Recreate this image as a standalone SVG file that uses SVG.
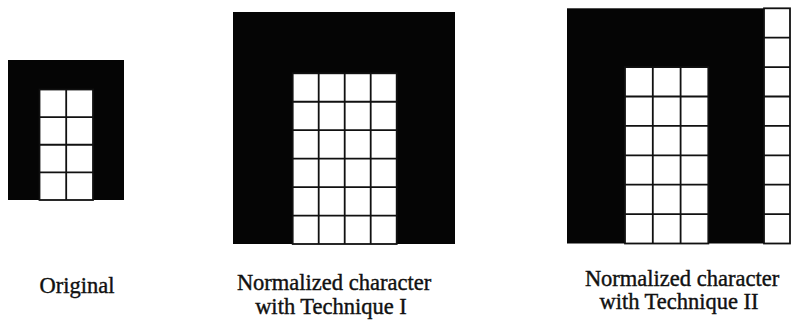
<svg xmlns="http://www.w3.org/2000/svg" width="791" height="321" viewBox="0 0 791 321">
<style>
.blk{fill:#050505}
.cell{fill:#fff;stroke:#111;stroke-width:1.8}
.grid{fill:none;stroke:#111;stroke-width:1.8}
.lbl{font-family:"Liberation Serif","Times New Roman",serif;font-size:22.5px;fill:#111;stroke:#111;stroke-width:0.4;text-anchor:middle}
</style>
<rect width="791" height="321" fill="#fff"/>
<g id="original">
<rect class="blk" x="8" y="60" width="116" height="140"/>
<rect class="cell" x="39.5" y="89.5" width="53.5" height="110.5"/>
<path class="grid" d="M66.2 89.5V200M39.5 117.1H93M39.5 144.75H93M39.5 172.4H93"/>
<text class="lbl" x="77" y="293">Original</text>
</g>
<g id="technique1">
<rect class="blk" x="233" y="12" width="222" height="232"/>
<rect class="cell" x="292.7" y="73.3" width="104" height="170.7"/>
<path class="grid" d="M318.7 73.3V244M344.7 73.3V244M370.7 73.3V244M292.7 101.75H396.7M292.7 130.2H396.7M292.7 158.65H396.7M292.7 187.1H396.7M292.7 215.55H396.7"/>
<text class="lbl" x="334" y="290">Normalized character</text>
<text class="lbl" x="331" y="314">with Technique I</text>
</g>
<g id="technique2">
<rect class="blk" x="567" y="8.3" width="197" height="235.2"/>
<rect class="cell" x="625" y="67.1" width="83.3" height="176.4"/>
<path class="grid" d="M652.8 67.1V243.5M680.6 67.1V243.5M625 96.5H708.3M625 125.9H708.3M625 155.3H708.3M625 184.7H708.3M625 214.1H708.3"/>
<rect class="cell" x="764" y="8.3" width="26" height="235.2"/>
<path class="grid" d="M764 37.7H790M764 67.1H790M764 96.5H790M764 125.9H790M764 155.3H790M764 184.7H790M764 214.1H790"/>
<text class="lbl" x="682" y="286">Normalized character</text>
<text class="lbl" x="679" y="309">with Technique II</text>
</g>
</svg>
